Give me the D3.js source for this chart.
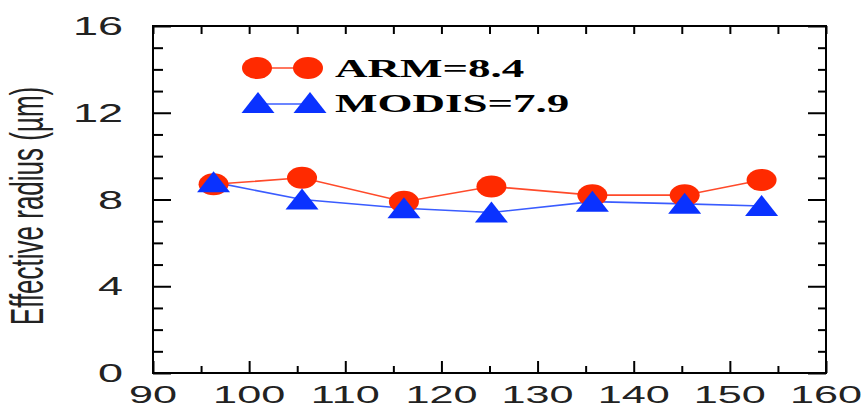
<!DOCTYPE html>
<html>
<head>
<meta charset="utf-8">
<script src="https://cdn.jsdelivr.net/npm/d3@7"></script>
<style>
  html, body { margin: 0; padding: 0; background: #fff; }
  svg { display: block; }
</style>
</head>
<body>
<svg id="chart" width="863" height="408"></svg>
<script>
// ---- data ----
const xValues = [96.3, 105.5, 116.1, 125.2, 135.7, 145.3, 153.3];
const armValues = [8.7, 9.0, 7.9, 8.6, 8.2, 8.2, 8.9];
const modisValues = [8.8, 8.0, 7.6, 7.4, 7.9, 7.8, 7.7];
const seriesNames = ["ARM=8.4", "MODIS=7.9"];
const xTicks = [90, 100, 110, 120, 130, 140, 150, 160];
const xMinorTicks = [95, 105, 115, 125, 135, 145, 155];
const yTicks = [0, 4, 8, 12, 16];
const yMinorTicks = [1, 2, 3, 5, 6, 7, 9, 10, 11, 13, 14, 15];
const yLabel = "Effective radius (\u00b5m)";

// ---- layout ----
const L = 153, R = 826, T = 26, B = 373;
const SX = 1.8; // horizontal text stretch seen in the reference
const red = "#ff2a00", redLine = "#ff4a2a";
const blue = "#0a32ff", blueLine = "#3a5cff";

const svg = d3.select("#chart");
const x = d3.scaleLinear().domain([90, 160]).range([L, R]);
const y = d3.scaleLinear().domain([0, 16]).range([B, T]);

function styleAxis(g) {
  g.select(".domain").remove();
  g.selectAll("line").attr("stroke", "#000").attr("stroke-width", 2);
}

// ticks (inward)
svg.append("g").attr("transform", `translate(0,${B})`)
  .call(d3.axisBottom(x).tickValues(xTicks).tickSize(-12).tickFormat(""))
  .call(styleAxis);
svg.append("g").attr("transform", `translate(0,${B})`)
  .call(d3.axisBottom(x).tickValues(xMinorTicks).tickSize(-7).tickFormat(""))
  .call(styleAxis);
svg.append("g").attr("transform", `translate(0,${T})`)
  .call(d3.axisTop(x).tickValues(xTicks.concat(xMinorTicks)).tickSize(-8).tickFormat(""))
  .call(styleAxis);
svg.append("g").attr("transform", `translate(${L},0)`)
  .call(d3.axisLeft(y).tickValues(yTicks).tickSize(-18).tickFormat(""))
  .call(styleAxis);
svg.append("g").attr("transform", `translate(${L},0)`)
  .call(d3.axisLeft(y).tickValues(yMinorTicks).tickSize(-10).tickFormat(""))
  .call(styleAxis);
svg.append("g").attr("transform", `translate(${R},0)`)
  .call(d3.axisRight(y).tickValues(yTicks).tickSize(-18).tickFormat(""))
  .call(styleAxis);
svg.append("g").attr("transform", `translate(${R},0)`)
  .call(d3.axisRight(y).tickValues(yMinorTicks).tickSize(-8).tickFormat(""))
  .call(styleAxis);

// frame
svg.append("rect").attr("x", L).attr("y", T).attr("width", R - L).attr("height", B - T)
  .attr("fill", "none").attr("stroke", "#000").attr("stroke-width", 2);

// tick labels
svg.append("g").selectAll("text").data(xTicks).join("text")
  .attr("transform", d => `translate(${x(d)},${B + 30}) scale(${SX},1)`)
  .attr("text-anchor", "middle")
  .attr("font-family", "Liberation Sans, Arial, sans-serif")
  .attr("font-size", 24)
  .attr("fill", "#222")
  .text(d => d);
svg.append("g").selectAll("text").data(yTicks).join("text")
  .attr("transform", d => `translate(${L - 30},${y(d) + 9}) scale(${SX},1)`)
  .attr("text-anchor", "end")
  .attr("font-family", "Liberation Sans, Arial, sans-serif")
  .attr("font-size", 25)
  .attr("fill", "#222")
  .text(d => d);

// y label
svg.append("text")
  .attr("transform", `translate(43,206) scale(${SX},1) rotate(-90)`)
  .attr("text-anchor", "middle")
  .attr("font-family", "Liberation Sans, Arial, sans-serif")
  .attr("font-size", 26)
  .attr("fill", "#222")
  .text(yLabel);

// lines
const line = d3.line().x(d => x(d[0])).y(d => y(d[1]));
const armPts = xValues.map((v, i) => [v, armValues[i]]);
const modisPts = xValues.map((v, i) => [v, modisValues[i]]);

svg.append("path").datum(armPts).attr("d", line)
  .attr("fill", "none").attr("stroke", redLine).attr("stroke-width", 1.6);
svg.append("path").datum(modisPts).attr("d", line)
  .attr("fill", "none").attr("stroke", blueLine).attr("stroke-width", 1.6);

// markers
const triPath = (cx, cy) => `M${cx},${cy - 11}L${cx + 16.5},${cy + 10}L${cx - 16.5},${cy + 10}Z`;
svg.append("g").selectAll("ellipse").data(armPts).join("ellipse")
  .attr("cx", d => x(d[0])).attr("cy", d => y(d[1]))
  .attr("rx", 15).attr("ry", 11).attr("fill", red);
svg.append("g").selectAll("path").data(modisPts).join("path")
  .attr("d", d => triPath(x(d[0]), y(d[1])))
  .attr("fill", blue);

// legend
const lg = svg.append("g");
lg.append("line").attr("x1", 257).attr("x2", 308).attr("y1", 68).attr("y2", 68)
  .attr("stroke", redLine).attr("stroke-width", 1.6);
[257, 308].forEach(cx => lg.append("ellipse").attr("cx", cx).attr("cy", 68)
  .attr("rx", 15).attr("ry", 11).attr("fill", red));
lg.append("line").attr("x1", 258).attr("x2", 310).attr("y1", 104).attr("y2", 104)
  .attr("stroke", blueLine).attr("stroke-width", 1.6);
[258, 310].forEach(cx => lg.append("path").attr("d", triPath(cx, 103)).attr("fill", blue));
lg.selectAll("text").data(seriesNames).join("text")
  .attr("transform", (d, i) => `translate(335,${i === 0 ? 77 : 112}) scale(${SX},1)`)
  .attr("font-family", "Liberation Serif, Times New Roman, serif")
  .attr("font-weight", "bold")
  .attr("font-size", 25)
  .attr("fill", "#000")
  .text(d => d);
</script>
</body>
</html>
